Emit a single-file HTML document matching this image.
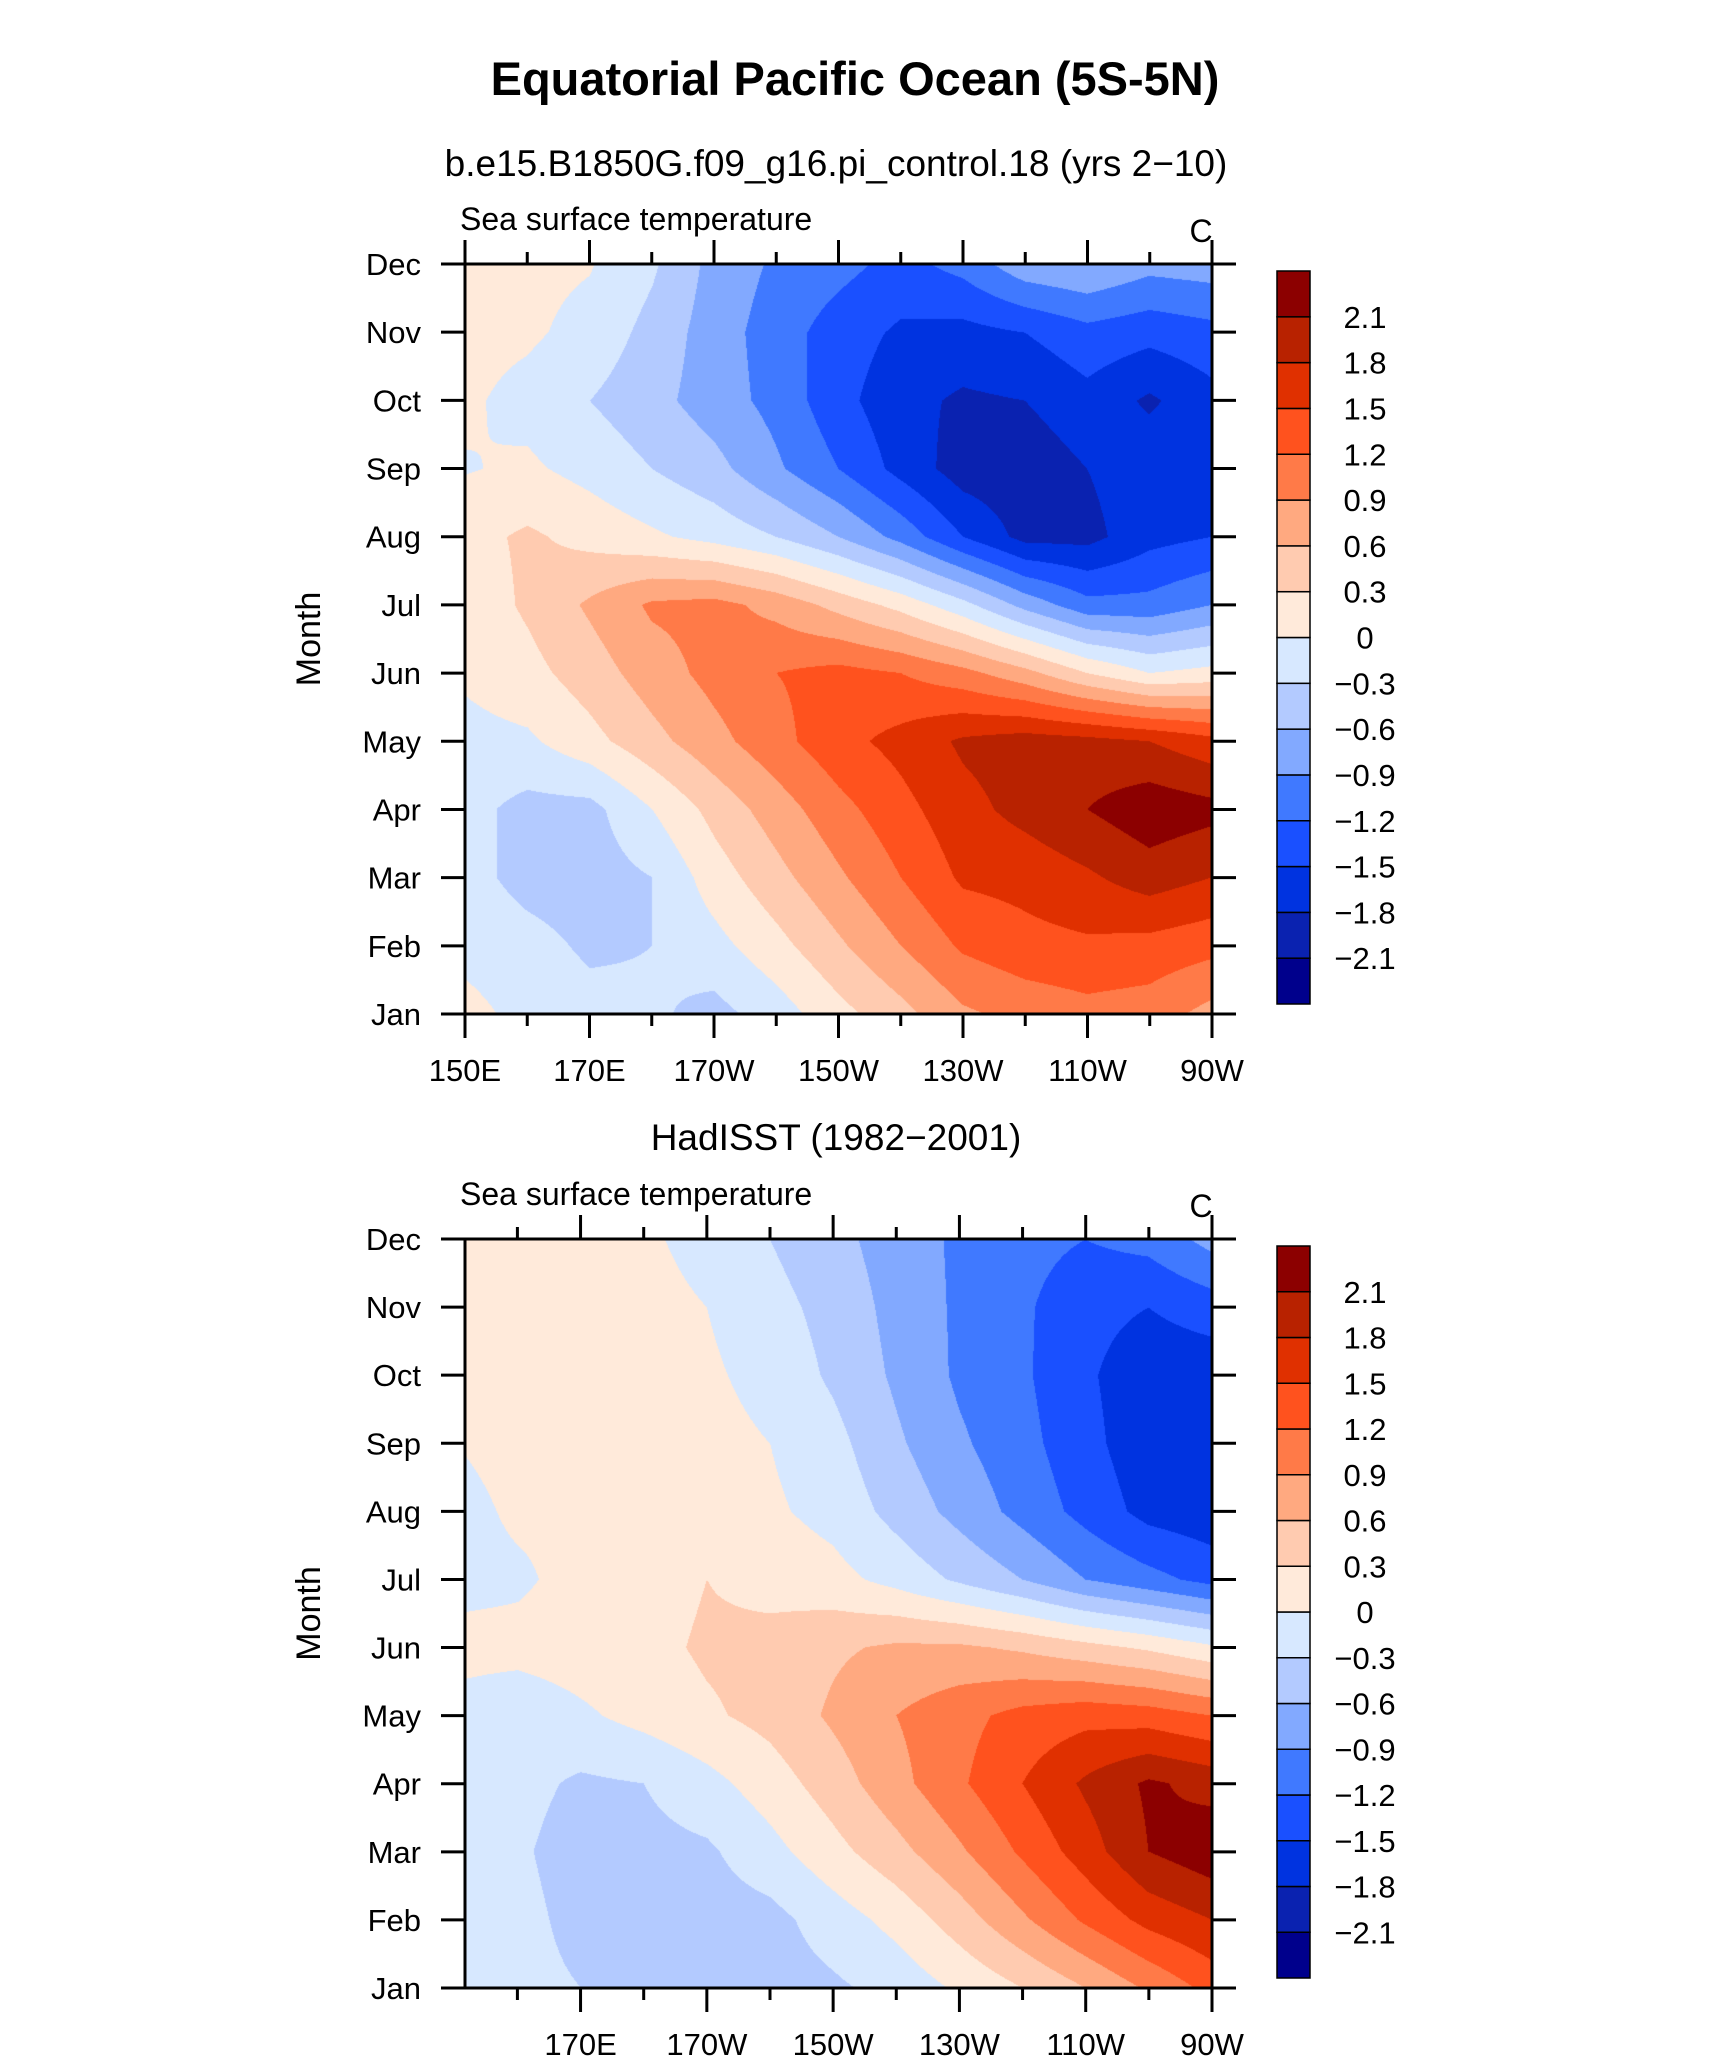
<!DOCTYPE html>
<html><head><meta charset="utf-8">
<style>
html,body{margin:0;padding:0;background:#fff;}
body{width:1710px;height:2062px;position:relative;overflow:hidden;font-family:"Liberation Sans",sans-serif;}
canvas{position:absolute;}
svg{position:absolute;left:0;top:0;}
</style></head>
<body>
<canvas id="c1" width="747" height="750" style="left:465px;top:264px"></canvas>
<canvas id="c2" width="747" height="749" style="left:465px;top:1239px"></canvas>
<svg id="s" width="1710" height="2062"></svg>
<script>
const months=["Jan","Feb","Mar","Apr","May","Jun","Jul","Aug","Sep","Oct","Nov","Dec"];
const lons=[150,160,170,180,190,200,210,220,230,240,250,260,270];
const levels=[-2.1,-1.8,-1.5,-1.2,-0.9,-0.6,-0.3,0,0.3,0.6,0.9,1.2,1.5,1.8,2.1];
const levelLabels=["\u22122.1","\u22121.8","\u22121.5","\u22121.2","\u22120.9","\u22120.6","\u22120.3","0","0.3","0.6","0.9","1.2","1.5","1.8","2.1"];
const colors=["#00008c","#0a22b0","#0033e0","#1a50ff","#4079ff","#82a9ff","#b3caff","#d7e8ff","#ffeada","#ffcbb0","#ffa980","#ff7a48","#ff521e","#e03000","#b82200","#8c0000"];
const xTickLabels1=["150E","170E","170W","150W","130W","110W","90W"];
const xTickVals1=[150,170,190,210,230,250,270];
const xTickLabels2=["170E","170W","150W","130W","110W","90W"];
const xTickVals2=[170,190,210,230,250,270];
// rows Jan..Dec, columns 150E..90W
const model=[
[0.1,-0.1,-0.2,-0.25,-0.4,-0.15,0.2,0.5,0.85,1.0,1.1,1.05,0.8],
[-0.1,-0.2,-0.35,-0.3,-0.1,0.2,0.55,0.9,1.25,1.4,1.45,1.4,1.3],
[-0.2,-0.4,-0.45,-0.3,0.15,0.5,0.85,1.2,1.55,1.6,1.75,1.95,1.8],
[-0.2,-0.4,-0.4,0.0,0.4,0.75,1.1,1.4,1.7,1.9,2.1,2.3,2.2],
[-0.1,-0.05,0.2,0.5,0.8,1.1,1.4,1.6,1.85,1.95,1.9,1.8,1.6],
[0.05,0.2,0.45,0.75,1.0,1.2,1.3,1.2,1.0,0.7,0.3,0.0,0.1],
[0.1,0.35,0.65,0.95,1.0,0.8,0.5,0.2,-0.2,-0.7,-1.1,-1.1,-0.9],
[0.2,0.35,0.2,0.05,-0.1,-0.3,-0.6,-1.0,-1.5,-1.9,-1.9,-1.6,-1.5],
[-0.02,0.05,-0.1,-0.3,-0.5,-0.85,-1.2,-1.6,-1.95,-2.0,-1.8,-1.6,-1.5],
[0.05,-0.1,-0.3,-0.5,-0.75,-1.0,-1.4,-1.7,-1.85,-1.8,-1.6,-1.85,-1.6],
[0.1,0.05,-0.1,-0.4,-0.75,-1.05,-1.35,-1.55,-1.6,-1.5,-1.3,-1.4,-1.3],
[0.1,0.08,0.02,-0.25,-0.7,-0.95,-1.1,-1.3,-1.1,-0.7,-0.6,-0.8,-0.75]];
const hadisst=[
[0.05,-0.2,-0.3,-0.35,-0.4,-0.45,-0.35,-0.2,0.05,0.3,0.6,0.95,1.3],
[-0.1,-0.2,-0.4,-0.45,-0.45,-0.4,-0.15,0.1,0.45,0.85,1.25,1.6,1.8],
[-0.1,-0.25,-0.45,-0.4,-0.35,-0.1,0.2,0.5,0.85,1.25,1.65,2.1,2.3],
[0.02,-0.2,-0.35,-0.3,-0.1,0.15,0.45,0.8,1.15,1.5,1.85,2.15,2.0],
[-0.1,-0.2,-0.05,0.1,0.25,0.4,0.65,0.9,1.1,1.3,1.4,1.35,1.2],
[0.1,0.1,0.15,0.2,0.35,0.4,0.55,0.65,0.65,0.55,0.4,0.25,0.05],
[-0.1,-0.05,0.1,0.15,0.3,0.2,0.1,-0.1,-0.35,-0.6,-0.9,-1.1,-1.3],
[-0.1,0.05,0.05,0.1,0.1,0.05,-0.1,-0.4,-0.7,-1.0,-1.3,-1.6,-1.7],
[0.0,0.1,0.3,0.15,0.1,0.0,-0.2,-0.55,-0.85,-1.1,-1.4,-1.7,-1.75],
[0.05,0.1,0.1,0.1,0.05,-0.1,-0.35,-0.65,-0.95,-1.15,-1.45,-1.7,-1.7],
[0.1,0.1,0.1,0.1,0.0,-0.2,-0.4,-0.7,-0.95,-1.15,-1.4,-1.5,-1.35],
[0.1,0.1,0.1,0.05,-0.1,-0.3,-0.5,-0.75,-0.95,-1.1,-1.2,-1.1,-0.8]];

function hex(c){return [parseInt(c.substr(1,2),16),parseInt(c.substr(3,2),16),parseInt(c.substr(5,2),16)];}
function drawField(id,data,lonMin,lonMax){
  const cv=document.getElementById(id),ctx=cv.getContext('2d');
  const W=cv.width,H=cv.height,img=ctx.createImageData(W,H);
  const rgb=colors.map(hex);
  for(let py=0;py<H;py++){
    const m=(1-py/(H-1))*11;const r0=Math.min(10,Math.floor(m)),fr=m-r0;
    for(let px=0;px<W;px++){
      const lon=lonMin+(lonMax-lonMin)*px/(W-1);
      const cf=(lon-lons[0])/10;const c0=Math.min(11,Math.max(0,Math.floor(cf))),fc=cf-c0;
      const v=(data[r0][c0]*(1-fc)+data[r0][c0+1]*fc)*(1-fr)+(data[r0+1][c0]*(1-fc)+data[r0+1][c0+1]*fc)*fr;
      let i=0;while(i<levels.length&&v>=levels[i])i++;
      const k=(py*W+px)*4,c=rgb[i];img.data[k]=c[0];img.data[k+1]=c[1];img.data[k+2]=c[2];img.data[k+3]=255;
    }
  }
  ctx.putImageData(img,0,0);
}
drawField('c1',model,150,270);
drawField('c2',hadisst,151.7,270);

const svg=document.getElementById('s');const NS="http://www.w3.org/2000/svg";
function mk(tag,attrs,txt){const e=document.createElementNS(NS,tag);for(const k in attrs)e.setAttribute(k,attrs[k]);if(txt!==undefined)e.textContent=txt;svg.appendChild(e);return e;}
let t=mk('text',{x:855,y:95,'text-anchor':'middle','font-size':47,'font-weight':'bold',fill:'#000'},"Equatorial Pacific Ocean (5S-5N)");



function panel(p){
  const L=465,R=1212,T=p.top,B=p.bottom;
  const xs=lon=>L+(lon-p.lonMin)/(270-p.lonMin)*(R-L);
  const ys=m=>B-m/11*(B-T);
  let e=mk('text',{x:836,y:p.titleY,'text-anchor':'middle','font-size':37,fill:'#000'},p.title);
  
  
  e=mk('text',{x:460,y:T-34,'font-size':32,fill:'#000'},"Sea surface temperature");
  
  
  e=mk('text',{x:1201,y:T-22,'text-anchor':'middle','font-size':32,fill:'#000'},"C");
  
  
  e=mk('rect',{x:L,y:T,width:R-L,height:B-T,fill:'none',stroke:'#000','stroke-width':3});
  
  
  months.forEach((mn,i)=>{
    const y=ys(i);
    mk('line',{x1:L-24,y1:y,x2:L,y2:y,stroke:'#000','stroke-width':3});
    mk('line',{x1:R,y1:y,x2:R+24,y2:y,stroke:'#000','stroke-width':3});
    const tx=mk('text',{x:421,y:y+11,'text-anchor':'end','font-size':31,fill:'#000'},mn);
    
    
  });
  for(let lon=160;lon<=270;lon+=10){
    if(lon<p.lonMin)continue;const x=xs(lon);const major=p.tickVals.includes(lon);
    const len=major?24:12;
    mk('line',{x1:x,y1:T,x2:x,y2:T-len,stroke:'#000','stroke-width':3});
    mk('line',{x1:x,y1:B,x2:x,y2:B+len,stroke:'#000','stroke-width':3});
  }
  if(p.lonMin===150){mk('line',{x1:L,y1:T,x2:L,y2:T-24,stroke:'#000','stroke-width':3});mk('line',{x1:L,y1:B,x2:L,y2:B+24,stroke:'#000','stroke-width':3});}
  p.tickVals.forEach((lv,i)=>{
    const tx=mk('text',{x:xs(lv),y:B+67,'text-anchor':'middle','font-size':31,fill:'#000'},p.tickLabels[i]);
    
    
  });
  e=mk('text',{x:0,y:0,'text-anchor':'middle','font-size':34,fill:'#000',transform:`translate(320,${(T+B)/2}) rotate(-90)`},"Month");
  
  
  const cx=1277,cw=33,cT=p.cbTop,cB=p.cbBottom,bh=(cB-cT)/colors.length;
  colors.forEach((c,i)=>{
    const r=mk('rect',{x:cx,y:cB-(i+1)*bh,width:cw,height:bh,fill:c,stroke:'#000','stroke-width':1.5});
    
    
  });
  levelLabels.forEach((lb,i)=>{
    const y=cB-(i+1)*bh;
    const tx=mk('text',{x:1365,y:y+11,'text-anchor':'middle','font-size':31,fill:'#000'},lb);
    
    
  });
}
panel({name:'model',title:"b.e15.B1850G.f09_g16.pi_control.18 (yrs 2\u221210)",titleY:176,top:264,bottom:1014,lonMin:150,tickVals:xTickVals1,tickLabels:xTickLabels1,cbTop:271,cbBottom:1004});
panel({name:'hadisst',title:"HadISST (1982\u22122001)",titleY:1150,top:1239,bottom:1988,lonMin:151.7,tickVals:xTickVals2,tickLabels:xTickLabels2,cbTop:1246,cbBottom:1978});
</script>
</body></html>
